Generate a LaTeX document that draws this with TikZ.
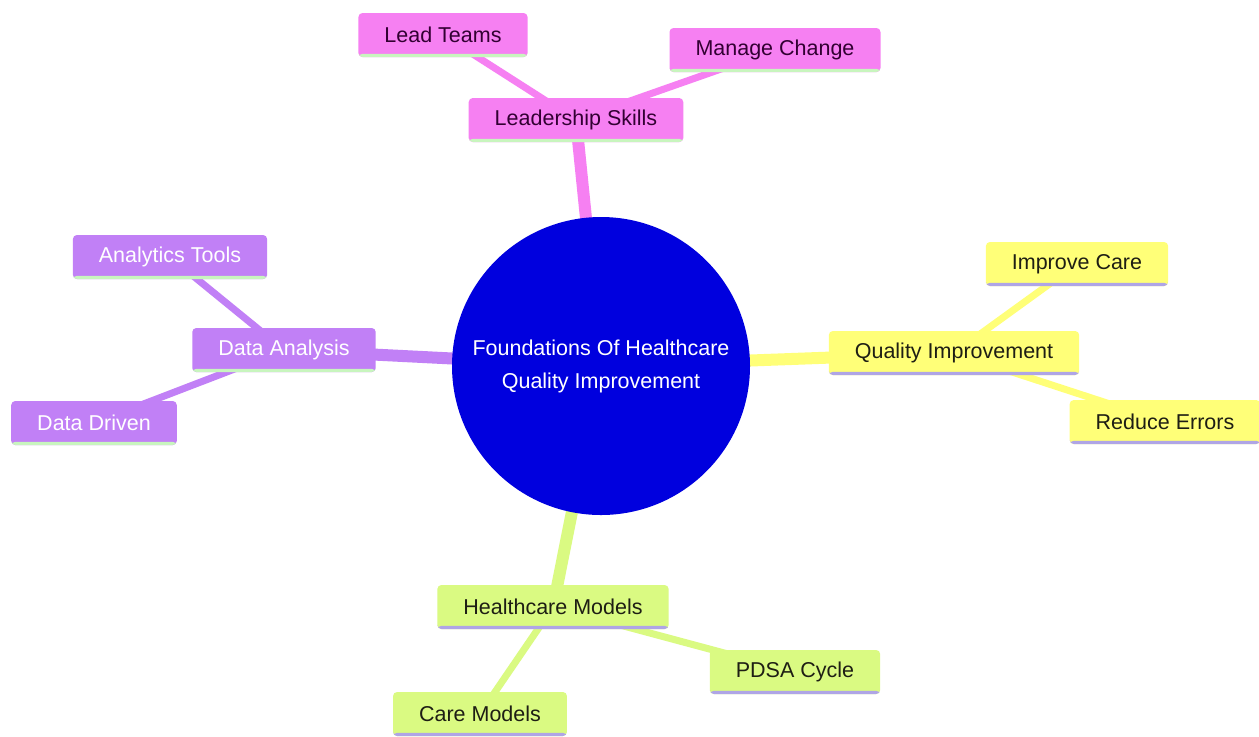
\documentclass[tikz,border=0pt]{standalone}
\usepackage{fontspec}
\setmainfont{Liberation Sans}
\usetikzlibrary{backgrounds}
\definecolor{mmpink}{RGB}{246,128,242}
\definecolor{mmpurple}{RGB}{193,128,246}
\definecolor{mmyellow}{RGB}{255,255,120}
\definecolor{mmgreen}{RGB}{218,250,130}
\definecolor{mmroot}{RGB}{0,0,222}
\definecolor{ulgreen}{RGB}{200,245,190}
\definecolor{ullav}{RGB}{175,165,230}
\definecolor{txtpink}{RGB}{50,0,50}
\definecolor{txtdark}{RGB}{30,30,20}

\begin{document}
\begin{tikzpicture}[
  x=0.5pt, y=-0.5pt,
  box/.style={rounded corners=2pt, inner xsep=13pt, inner ysep=0pt, minimum height=22pt,
    font=\fontsize{10.75}{13}\selectfont},
  uline/.style={path picture={\fill[#1] ([yshift=1.6pt]path picture bounding box.south west)
    rectangle (path picture bounding box.south east);}},
  pk/.style={box, fill=mmpink, text=txtpink, uline=ulgreen},
  pu/.style={box, fill=mmpurple, text=white, uline=ulgreen},
  ye/.style={box, fill=mmyellow, text=txtdark, uline=ullav},
  gr/.style={box, fill=mmgreen, text=txtdark, uline=ullav},
  root/.style={circle, fill=mmroot, minimum size=149pt, inner sep=0pt, text=white,
    align=center, font=\fontsize{10.75}{16.5}\selectfont},
  trunk/.style={line width=6pt},
  twig/.style={line width=3.5pt}
]
  \useasboundingbox (0,0) rectangle (1259,736);
  % --- root ---
  \node[root] (qi) at (601,366) {Foundations Of Healthcare\\Quality Improvement};
  % --- leadership ---
  \node[pk] (lead) at (576,120) {Leadership Skills};
  \node[pk] (teams) at (443,35) {Lead Teams};
  \node[pk] (change) at (775,50) {Manage Change};
  % --- data ---
  \node[pu] (data) at (284,350) {Data Analysis};
  \node[pu] (tools) at (170,257) {Analytics Tools};
  \node[pu] (driven) at (94,423) {Data Driven};
  % --- quality ---
  \node[ye] (qual) at (954,353) {Quality Improvement};
  \node[ye] (care) at (1077,264) {Improve Care};
  \node[ye] (errors) at (1165,422) {Reduce Errors};
  % --- models ---
  \node[gr] (models) at (553,607) {Healthcare Models};
  \node[gr] (pdsa) at (795,672) {PDSA Cycle};
  \node[gr] (caremod) at (480,714) {Care Models};
  % edges
  \begin{scope}[on background layer]
    \fill[white] (0,0) rectangle (1259,736);
    \draw[trunk, mmpink] (qi.center) -- (lead.center);
    \draw[twig, mmpink] (lead.center) -- (teams.center);
    \draw[twig, mmpink] (lead.center) -- (change.center);
    \draw[trunk, mmpurple] (qi.center) -- (data.center);
    \draw[twig, mmpurple] (data.center) -- (tools.center);
    \draw[twig, mmpurple] (data.center) -- (driven.center);
    \draw[trunk, mmyellow] (qi.center) -- (qual.center);
    \draw[twig, mmyellow] (qual.center) -- (care.center);
    \draw[twig, mmyellow] (qual.center) -- (errors.center);
    \draw[trunk, mmgreen] (qi.center) -- (models.center);
    \draw[twig, mmgreen] (models.center) -- (pdsa.center);
    \draw[twig, mmgreen] (models.center) -- (caremod.center);
  \end{scope}
\end{tikzpicture}
\end{document}
